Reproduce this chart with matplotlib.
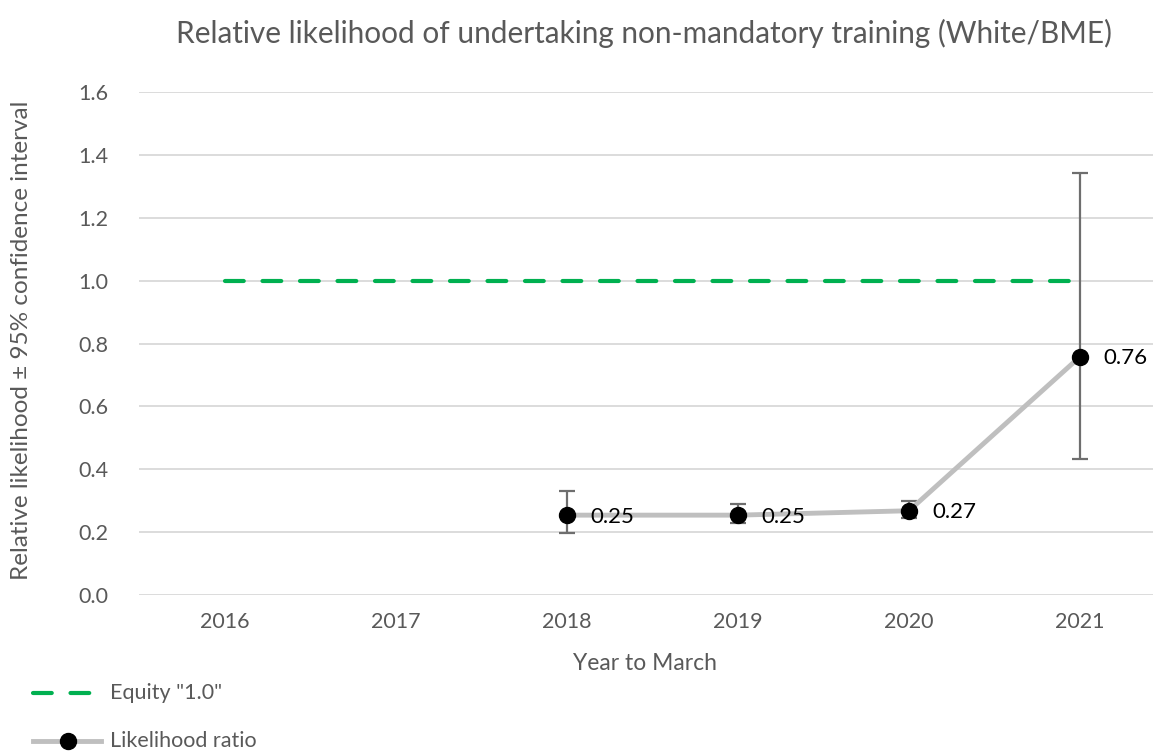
import matplotlib
matplotlib.use("Agg")
import matplotlib.pyplot as plt
from matplotlib.lines import Line2D

plt.rcParams['font.family'] = ['Lato', 'DejaVu Sans']

years = [2016, 2017, 2018, 2019, 2020, 2021]
equity = [1.0, 1.0, 1.0, 1.0, 1.0, 1.0]
ratio_years = [2018, 2019, 2020, 2021]
ratio = [0.254, 0.254, 0.268, 0.758]
ci_low = [0.198, 0.228, 0.245, 0.432]
ci_high = [0.332, 0.290, 0.298, 1.342]
labels = ["0.25", "0.25", "0.27", "0.76"]
yticks = [0.0, 0.2, 0.4, 0.6, 0.8, 1.0, 1.2, 1.4, 1.6]

W, H = 1155, 753
fig = plt.figure(figsize=(W / 100, H / 100), dpi=100)
left, right, top, bottom = 139, 1153, 92, 595
ax = fig.add_axes([left / W, 1 - bottom / H, (right - left) / W, (bottom - top) / H])

grid_c = '#D9D9D9'
for y in yticks:
    ax.axhline(y, color=grid_c, lw=1.3, zorder=0)

ax.plot(years, equity, color='#00B050', lw=3.0, ls=(0, (4.5, 4.5)),
        dash_capstyle='round', zorder=2)

err_low = [r - l for r, l in zip(ratio, ci_low)]
err_high = [h - r for r, h in zip(ratio, ci_high)]
ax.errorbar(ratio_years, ratio, yerr=[err_low, err_high], fmt='none',
            ecolor='#6E6E6E', elinewidth=1.6, capsize=6, capthick=1.6, zorder=3)
ax.plot(ratio_years, ratio, color='#BFBFBF', lw=3.5, marker='o',
        markersize=11.5, markerfacecolor='black', markeredgecolor='black', zorder=4)

for x, y, t in zip(ratio_years, ratio, labels):
    ax.annotate(t, (x, y), xytext=(17, -1), textcoords='offset points',
                va='center', ha='left', fontsize=16, color='black', zorder=6)

ax.set_xlim(2016 - 86 / 171, 2021 + 73 / 171)
ax.set_ylim(0, 1.6)
ax.set_yticks(yticks)
ax.set_yticklabels([f"{v:.1f}" for v in yticks])
ax.set_xticks(years)
ax.set_xticklabels([str(y) for y in years])
ax.tick_params(axis='both', length=0, labelsize=15.5, colors='#595959')
ax.tick_params(axis='y', pad=22)
ax.tick_params(axis='x', pad=12)
for s in ax.spines.values():
    s.set_visible(False)

fig.text(644 / W, 1 - 33 / H, 'Relative likelihood of undertaking non-mandatory training (White/BME)',
         ha='center', va='center', fontsize=21.4, color='#595959')
fig.text(645 / W, 1 - 663 / H, 'Year to March', ha='center', va='center',
         fontsize=16.5, color='#595959')
fig.text(22 / W, 1 - 340 / H, 'Relative likelihood \u00b1 95% confidence interval', ha='center',
         va='center', rotation=90, fontsize=17.5, color='#595959')

# legend
ly1 = 1 - 693 / H
ly2 = 1 - 741 / H
fig.add_artist(Line2D([33 / W, 98 / W], [ly1, ly1], color='#00B050', lw=3.0,
                      ls=(0, (4.5, 4.5)), dash_capstyle='round', transform=fig.transFigure))
fig.add_artist(Line2D([33 / W, 101 / W], [ly2, ly2], color='#BFBFBF', lw=3.5,
                      transform=fig.transFigure))
fig.add_artist(Line2D([68 / W], [ly2], color='black', marker='o', markersize=11.5,
                      transform=fig.transFigure))
fig.text(110 / W, ly1, 'Equity "1.0"', ha='left', va='center', fontsize=15.5, color='#595959')
fig.text(110 / W, ly2, 'Likelihood ratio', ha='left', va='center', fontsize=15.5, color='#595959')

fig.savefig('out.png', dpi=100)
